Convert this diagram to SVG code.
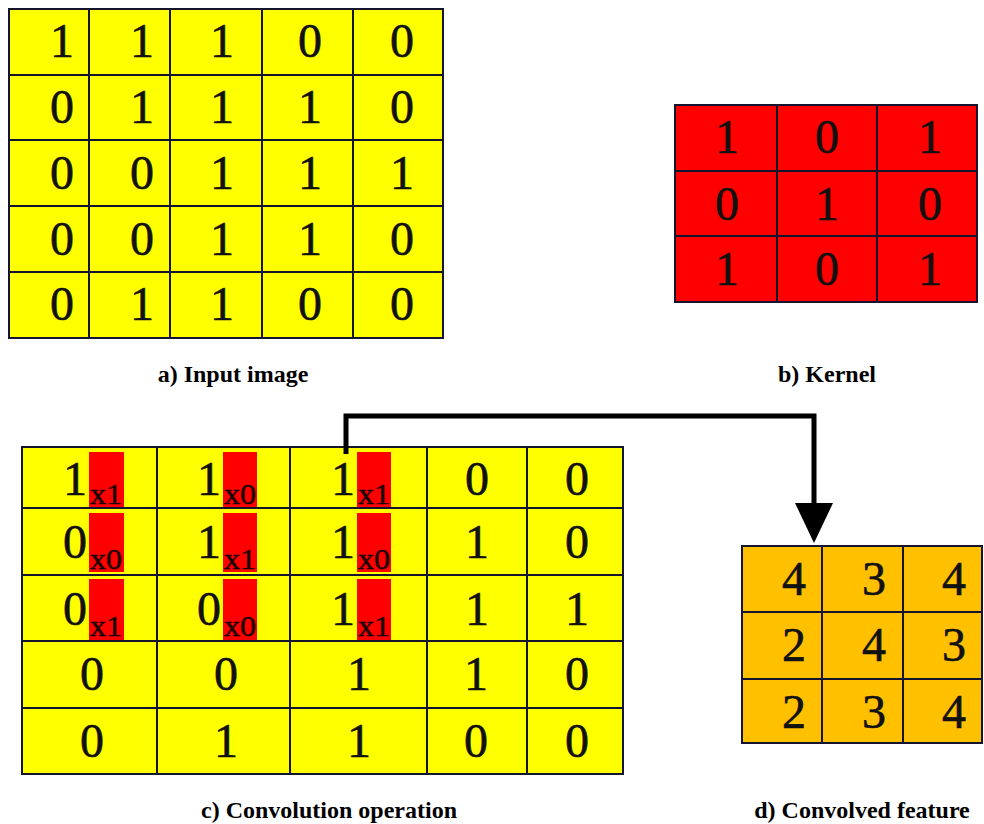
<svg xmlns="http://www.w3.org/2000/svg" width="984" height="824" viewBox="0 0 984 824">
  <style>
    .grid { stroke: #14142e; stroke-width: 2; fill: none; }
    .yellow { fill: #ffff00; }
    .red { fill: #ff0000; }
    .orange { fill: #ffc000; }
    .num { font-family: 'Liberation Serif', 'Times New Roman', serif; font-size: 48px; fill: #111; stroke: #111; stroke-width: 0.6; text-anchor: middle; }
    .sub { font-family: 'Liberation Serif', 'Times New Roman', serif; font-size: 30px; fill: #1a0000; stroke: #1a0000; stroke-width: 0.5; text-anchor: middle; }
    .caption { font-family: 'Liberation Serif', 'Times New Roman', serif; font-size: 24px; font-weight: bold; fill: #000; text-anchor: middle; }
    .conn { stroke: #000; stroke-width: 5; fill: none; }
  </style>
  <defs>
    <marker id="arrowhead" markerUnits="userSpaceOnUse" viewBox="0 0 40 38" markerWidth="40" markerHeight="38" refX="22" refY="19" orient="auto">
      <path d="M0,0 L40,19 L0,38 z" fill="#000"/>
    </marker>
  </defs>

  <rect width="984" height="824" fill="#fff"/>

  <!-- a) 5x5 input image -->
  <g id="input-image">
    <rect class="yellow" x="9" y="9" width="434" height="329"/>
    <path class="grid" d="M9,9 H443 V338 H9 Z M89,9 V338 M170,9 V338 M262,9 V338 M353,9 V338 M9,75 H443 M9,140 H443 M9,206 H443 M9,272 H443"/>
    <g class="num">
      <text x="62" y="57">1</text><text x="142" y="57">1</text><text x="222" y="57">1</text><text x="310" y="57">0</text><text x="402" y="57">0</text>
      <text x="62" y="123">0</text><text x="142" y="123">1</text><text x="222" y="123">1</text><text x="310" y="123">1</text><text x="402" y="123">0</text>
      <text x="62" y="189">0</text><text x="142" y="189">0</text><text x="222" y="189">1</text><text x="310" y="189">1</text><text x="402" y="189">1</text>
      <text x="62" y="255">0</text><text x="142" y="255">0</text><text x="222" y="255">1</text><text x="310" y="255">1</text><text x="402" y="255">0</text>
      <text x="62" y="320">0</text><text x="142" y="320">1</text><text x="222" y="320">1</text><text x="310" y="320">0</text><text x="402" y="320">0</text>
    </g>
    <text class="caption" x="233" y="382">a) Input image</text>
  </g>

  <!-- b) 3x3 kernel -->
  <g id="kernel">
    <rect class="red" x="675" y="105" width="302" height="197"/>
    <path class="grid" d="M675,105 H977 V302 H675 Z M777,105 V302 M877,105 V302 M675,171 H977 M675,236 H977"/>
    <g class="num">
      <text x="727" y="153">1</text><text x="827" y="153">0</text><text x="930" y="153">1</text>
      <text x="727" y="220">0</text><text x="827" y="220">1</text><text x="930" y="220">0</text>
      <text x="727" y="285">1</text><text x="827" y="285">0</text><text x="930" y="285">1</text>
    </g>
    <text class="caption" x="827" y="382">b) Kernel</text>
  </g>

  <!-- c) kernel applied over the top-left 3x3 window -->
  <g id="convolution">
    <rect class="yellow" x="22" y="447" width="601" height="327"/>
    <!-- kernel weights overlaid on the window -->
    <g class="red">
      <rect x="89" y="452" width="35" height="56"/><rect x="223" y="452" width="34" height="56"/><rect x="357" y="452" width="34" height="56"/>
      <rect x="89" y="513" width="35" height="59"/><rect x="223" y="513" width="34" height="59"/><rect x="357" y="513" width="34" height="59"/>
      <rect x="89" y="579" width="35" height="61"/><rect x="223" y="579" width="34" height="61"/><rect x="357" y="579" width="34" height="61"/>
    </g>
    <path class="grid" d="M22,447 H623 V774 H22 Z M157,447 V774 M290,447 V774 M427,447 V774 M527,447 V774 M22,508 H623 M22,575 H623 M22,641 H623 M22,708 H623"/>
    <g class="sub">
      <text x="106" y="504" textLength="32" lengthAdjust="spacingAndGlyphs">x1</text>
      <text x="240" y="504" textLength="32" lengthAdjust="spacingAndGlyphs">x0</text>
      <text x="374" y="504" textLength="32" lengthAdjust="spacingAndGlyphs">x1</text>
      <text x="106" y="569" textLength="32" lengthAdjust="spacingAndGlyphs">x0</text>
      <text x="240" y="569" textLength="32" lengthAdjust="spacingAndGlyphs">x1</text>
      <text x="374" y="569" textLength="32" lengthAdjust="spacingAndGlyphs">x0</text>
      <text x="106" y="636" textLength="32" lengthAdjust="spacingAndGlyphs">x1</text>
      <text x="240" y="636" textLength="32" lengthAdjust="spacingAndGlyphs">x0</text>
      <text x="374" y="636" textLength="32" lengthAdjust="spacingAndGlyphs">x1</text>
    </g>
    <g class="num">
      <text x="75" y="495">1</text><text x="209" y="495">1</text><text x="343" y="495">1</text><text x="477" y="495">0</text><text x="577" y="495">0</text>
      <text x="75" y="558">0</text><text x="209" y="558">1</text><text x="343" y="558">1</text><text x="477" y="558">1</text><text x="577" y="558">0</text>
      <text x="75" y="625">0</text><text x="209" y="625">0</text><text x="343" y="625">1</text><text x="477" y="625">1</text><text x="577" y="625">1</text>
      <text x="92" y="690">0</text><text x="226" y="690">0</text><text x="359" y="690">1</text><text x="476" y="690">1</text><text x="577" y="690">0</text>
      <text x="92" y="757">0</text><text x="226" y="757">1</text><text x="359" y="757">1</text><text x="476" y="757">0</text><text x="577" y="757">0</text>
    </g>
    <text class="caption" x="329" y="818">c) Convolution operation</text>
  </g>

  <!-- d) 3x3 convolved feature map -->
  <g id="convolved-feature">
    <rect class="orange" x="742" y="546" width="240" height="197"/>
    <path class="grid" d="M742,546 H982 V743 H742 Z M822,546 V743 M903,546 V743 M742,612 H982 M742,679 H982"/>
    <g class="num">
      <text x="794" y="595">4</text><text x="874" y="595">3</text><text x="954" y="595">4</text>
      <text x="794" y="661">2</text><text x="874" y="661">4</text><text x="954" y="661">3</text>
      <text x="794" y="728">2</text><text x="874" y="728">3</text><text x="954" y="728">4</text>
    </g>
    <text class="caption" x="862" y="818">d) Convolved feature</text>
  </g>

  <!-- connector: window sum feeds the first output cell -->
  <g id="connectors">
    <path class="conn" d="M346,454 V416 H814 V525" marker-end="url(#arrowhead)"/>
  </g>
</svg>
